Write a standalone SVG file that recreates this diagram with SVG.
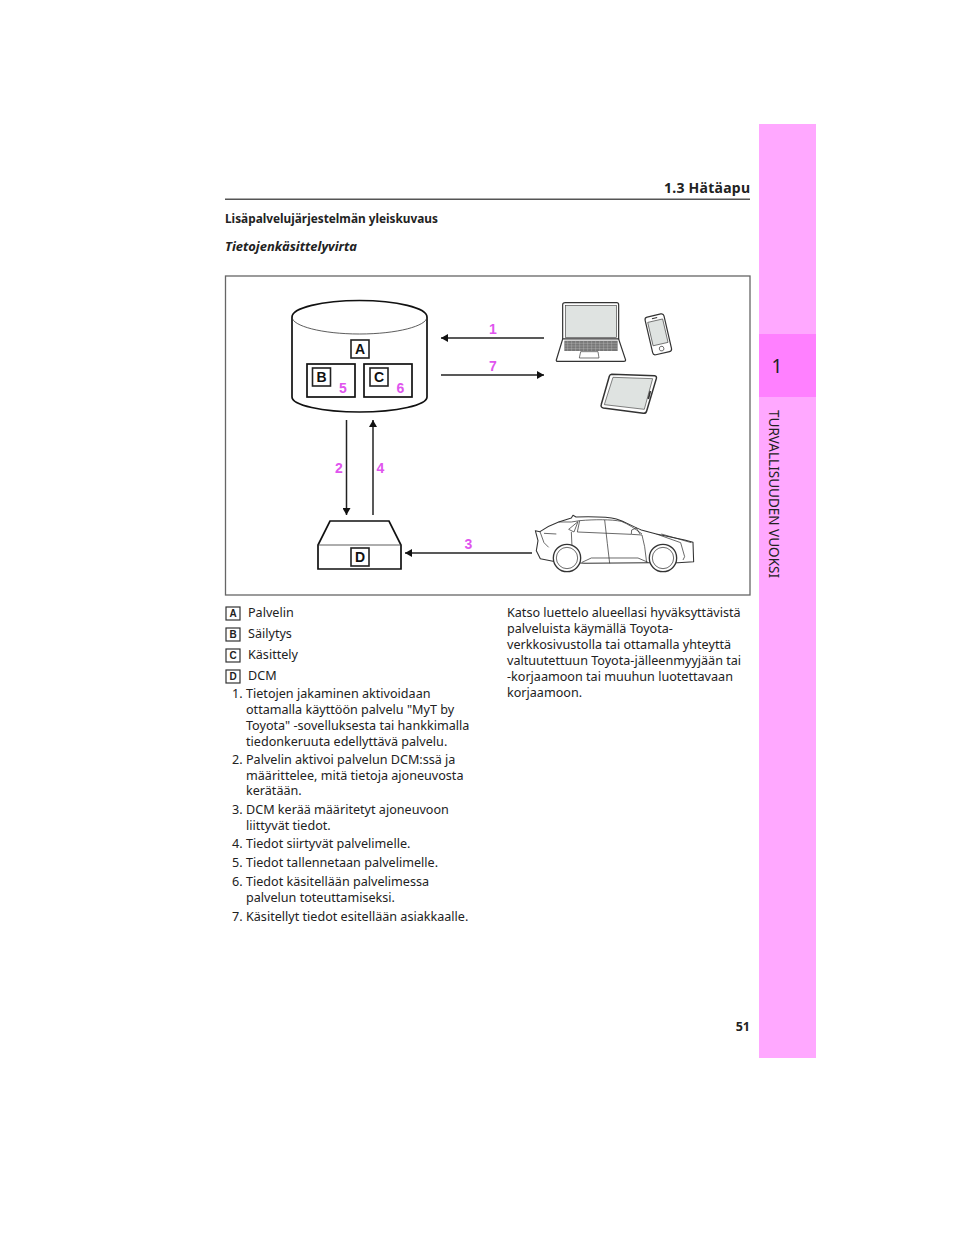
<svg xmlns="http://www.w3.org/2000/svg" width="960" height="1242" viewBox="0 0 960 1242">
<defs>
<marker id="ah" markerUnits="userSpaceOnUse" markerWidth="8" markerHeight="8" refX="7" refY="4" orient="auto"><path d="M0 0L7 4L0 8Z" fill="#111"/></marker>
</defs>
<style>
text{font-family:"Noto Sans","Open Sans",sans-serif;fill:#222}
.b{font-size:12.6px}
.h{font-size:13px;font-weight:700}
.t{fill:#fff;stroke:#222;stroke-width:1.6}
.big{fill:#fff;stroke:#111;stroke-width:1.7}
.l{font-family:"Liberation Sans",Arial,sans-serif;font-weight:700;font-size:14px;text-anchor:middle;fill:#111}
.m{font-family:"Liberation Sans",Arial,sans-serif;font-weight:700;font-size:14px;text-anchor:middle;fill:#e055ee}
.k{fill:#fff;stroke:#333;stroke-width:1.2}
.k2{font-family:"Liberation Sans",Arial,sans-serif;font-weight:700;font-size:10px;text-anchor:middle;fill:#222}
.c{stroke:#222;stroke-width:1.5;fill:none;marker-end:url(#ah)}
.d{fill:#fff;stroke:#333;stroke-width:3.6}
.w{fill:none;stroke:#333;stroke-width:3}
</style>
<rect width="960" height="1242" fill="#fff"/>
<g id="sidebar">
<rect x="759" y="124" width="57" height="934" fill="#ffa8ff"/>
<rect x="759" y="334" width="57" height="63" fill="#ff80ff"/>
<text x="777" y="373" font-size="19" text-anchor="middle">1</text>
<text transform="translate(769 410) rotate(90)" font-size="14.2" textLength="168" lengthAdjust="spacingAndGlyphs">TURVALLISUUDEN VUOKSI</text>
</g>
<g id="header">
<text x="664" y="193" font-size="14" font-weight="700" textLength="86" lengthAdjust="spacing">1.3 Hätäapu</text>
<rect x="225" y="198.500" width="525" height="1.500" fill="#555"/>
<text x="225" y="222.500" class="h" textLength="213" lengthAdjust="spacingAndGlyphs">Lisäpalvelujärjestelmän yleiskuvaus</text>
<text x="225" y="251" class="h" font-style="italic" textLength="132" lengthAdjust="spacingAndGlyphs">Tietojenkäsittelyvirta</text>
</g>
<rect id="frame" x="225.500" y="276" width="524.500" height="319" fill="#fff" stroke="#666" stroke-width="1.300"/>
<g id="connectors">
<path class="c" d="M544 338H441"/>
<path class="c" d="M441 375H544"/>
<path class="c" d="M346.500 420V515"/>
<path class="c" d="M373 515V420"/>
<path class="c" d="M532 553H405"/>
</g>
<g id="server">
<path class="big" d="M292 317V397C292 405 322 412 359.500 412S427 405 427 397V317C427 308 397 300.500 359.500 300.500S292 308 292 317Z"/>
<path d="M292 317C292 326 322 334 359.500 334S427 326 427 317" fill="none" stroke="#333" stroke-width=".8"/>
<g id="node-A"><rect class="t" x="351" y="340" width="18" height="18"/><text class="l" x="360" y="354">A</text></g>
<g id="node-B"><rect class="big" x="307" y="364" width="48" height="33"/><rect class="t" x="312.500" y="368" width="18" height="18"/><text class="l" x="321.500" y="382">B</text><text class="m" x="343" y="393">5</text></g>
<g id="node-C"><rect class="big" x="364" y="364" width="48" height="33"/><rect class="t" x="370" y="368" width="18" height="18"/><text class="l" x="379" y="382">C</text><text class="m" x="400.500" y="393">6</text></g>
</g>
<g id="node-D">
<path class="big" d="M330 521H389L401 545V569H318V545Z"/>
<path d="M318 545H401" stroke="#333" stroke-width=".8"/>
<rect class="t" x="351" y="548" width="18" height="18"/><text class="l" x="360" y="562">D</text>
</g>
<g id="labels">
<text class="m" x="493" y="333.500">1</text>
<text class="m" x="493" y="371">7</text>
<text class="m" x="339" y="473">2</text>
<text class="m" x="380.500" y="473">4</text>
<text class="m" x="468.500" y="549">3</text>
</g>
<g id="laptop" transform="translate(490 275) scale(.3333)">
<path class="d" d="M226 83H380Q386 83 386 89V192H218V89Q218 83 226 83Z"/>
<rect x="227" y="92" width="153" height="95" fill="#dfe3e1" stroke="#444" stroke-width="2"/>
<path class="d" d="M218 192H386L407 255Q407 259 402 259H203Q198 259 199 255Z"/>
<rect x="223" y="197" width="160" height="31" fill="#777"/>
<path d="M223 205H383M223 213H383M223 221H383M233 197V228M245 197V228M257 197V228M269 197V228M281 197V228M293 197V228M305 197V228M317 197V228M329 197V228M341 197V228M353 197V228M365 197V228" stroke="#ccc" stroke-width="1"/>
<path fill="none" stroke="#333" stroke-width="2" d="M272 230H324L327 249H268Z"/>
</g>
<g id="phone" transform="translate(490 275) scale(.3333)">
<g transform="rotate(-13 505 178)">
<rect class="d" x="476" y="120" width="58" height="116" rx="8"/>
<rect x="482" y="136" width="46" height="72" fill="#dfe3e1" stroke="#444" stroke-width="2"/>
<circle cx="505" cy="222" r="7" fill="#fff" stroke="#333" stroke-width="2"/>
<path d="M497 128H513" stroke="#333" stroke-width="3"/>
</g>
</g>
<g id="tablet" transform="translate(490 275) scale(.3333)">
<path d="M365 298L494 302Q501 303 499 311L470 408Q468 416 460 415L340 399Q331 397 334 388L358 304Q360 298 365 298Z" fill="#fff" stroke="#333" stroke-width="4.500"/>
<path d="M369 307L488 311L463 403L343 389Z" fill="#dfe3e1" stroke="#444" stroke-width="2"/>
<path d="M481 348L475 372" stroke="#333" stroke-width="5"/>
</g>
<g id="car" transform="translate(528 510) scale(.3333)">
<path fill="#fff" stroke="#333" stroke-width="3.200" stroke-linejoin="round" d="M22 62L36 65C55 52 75 42 92 36L130 24L135 16L144 21C185 20 240 20 265 27C290 34 315 50 340 60L385 72L470 90L495 97L497 155L450 158L365 158L170 160L75 154L37 146L25 122L30 92Z"/>
<path fill="none" stroke="#333" stroke-width="2.200" stroke-linejoin="round" d="M36 65L48 98L62 112M48 70L85 72M92 36L130 36L155 32M122 58L150 35L138 66ZM155 32L148 66L310 73L342 75M155 32C200 28 250 28 280 34C300 42 320 55 342 72M230 30L238 100L245 160M130 66L132 110M342 75L350 110L356 158M310 72L311 60L325 54L336 72M162 157L190 144H330L360 157M385 72L458 98L470 140L465 150M400 72L490 98"/>
<g fill="#fff" stroke="#333">
<circle cx="117" cy="144" r="41" stroke-width="4"/><circle cx="117" cy="144" r="32" stroke-width="2.200"/>
<circle cx="405" cy="144" r="41" stroke-width="4"/><circle cx="405" cy="144" r="32" stroke-width="2.200"/>
</g>
</g>
<g id="legend">
<g><rect class="k" x="226" y="607" width="14" height="13"/><text class="k2" x="233" y="617">A</text><text class="b" x="248" y="617">Palvelin</text></g>
<g><rect class="k" x="226" y="628" width="14" height="13"/><text class="k2" x="233" y="638">B</text><text class="b" x="248" y="638">Säilytys</text></g>
<g><rect class="k" x="226" y="649" width="14" height="13"/><text class="k2" x="233" y="659">C</text><text class="b" x="248" y="659">Käsittely</text></g>
<g><rect class="k" x="226" y="670" width="14" height="13"/><text class="k2" x="233" y="680">D</text><text class="b" x="248" y="680">DCM</text></g>
</g>
<g id="steps" class="b">
<text x="232" y="698">1.</text><text x="246" y="698">Tietojen jakaminen aktivoidaan</text>
<text x="246" y="714">ottamalla käyttöön palvelu "MyT by</text>
<text x="246" y="730">Toyota" -sovelluksesta tai hankkimalla</text>
<text x="246" y="746">tiedonkeruuta edellyttävä palvelu.</text>
<text x="232" y="764">2.</text><text x="246" y="764">Palvelin aktivoi palvelun DCM:ssä ja</text>
<text x="246" y="780">määrittelee, mitä tietoja ajoneuvosta</text>
<text x="246" y="795">kerätään.</text>
<text x="232" y="814">3.</text><text x="246" y="814">DCM kerää määritetyt ajoneuvoon</text>
<text x="246" y="830">liittyvät tiedot.</text>
<text x="232" y="848">4.</text><text x="246" y="848">Tiedot siirtyvät palvelimelle.</text>
<text x="232" y="867">5.</text><text x="246" y="867">Tiedot tallennetaan palvelimelle.</text>
<text x="232" y="886">6.</text><text x="246" y="886">Tiedot käsitellään palvelimessa</text>
<text x="246" y="902">palvelun toteuttamiseksi.</text>
<text x="232" y="921">7.</text><text x="246" y="921">Käsitellyt tiedot esitellään asiakkaalle.</text>
</g>
<g id="note" class="b">
<text x="507" y="617">Katso luettelo alueellasi hyväksyttävistä</text>
<text x="507" y="633">palveluista käymällä Toyota-</text>
<text x="507" y="649">verkkosivustolla tai ottamalla yhteyttä</text>
<text x="507" y="665">valtuutettuun Toyota-jälleenmyyjään tai</text>
<text x="507" y="681">-korjaamoon tai muuhun luotettavaan</text>
<text x="507" y="697">korjaamoon.</text>
</g>
<text id="page" x="750" y="1031" font-size="12.500" font-weight="700" text-anchor="end">51</text>
</svg>
